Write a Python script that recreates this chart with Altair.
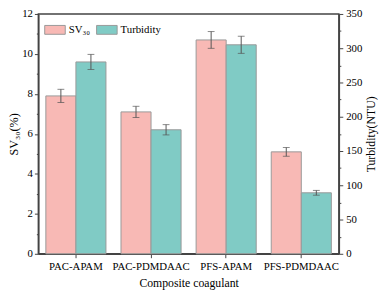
import altair as alt
import pandas as pd

categories = ["PAC-APAM", "PAC-PDMDAAC", "PFS-APAM", "PFS-PDMDAAC"]
series = ["SV₃₀", "Turbidity"]
sv30 = [7.9, 7.1, 10.7, 5.1]
sv30_err = [0.33, 0.28, 0.42, 0.22]
turbidity = [280, 181, 305, 89]
turbidity_err = [11, 7.5, 12.5, 3.5]
left_ticks = list(range(0, 13))
right_ticks = list(range(0, 351, 25))

colors = ["#F8B9B5", "#80CBC5"]
FONT = "Liberation Serif"

rows = []
for c, v, e in zip(categories, sv30, sv30_err):
    rows.append({"cat": c, "series": series[0], "value": v, "lo": v - e, "hi": v + e})
for c, v, e in zip(categories, turbidity, turbidity_err):
    rows.append({"cat": c, "series": series[1], "value": v, "lo": v - e, "hi": v + e})
df = pd.DataFrame(rows)

x_enc = alt.X(
    "cat:N",
    sort=categories,
    scale=alt.Scale(paddingInner=0.2, paddingOuter=0.1),
    axis=alt.Axis(
        title="Composite coagulant",
        labelAngle=0,
        labelFont=FONT,
        titleFont=FONT,
        labelFontSize=11,
        titleFontSize=12,
        titleFontWeight="normal",
        tickSize=4,
        labelPadding=3,
        titlePadding=6,
        domainColor="#444",
        tickColor="#444",
        domainWidth=1.5,
        labelColor="black",
        titleColor="black",
    ),
)
xo_enc = alt.XOffset("series:N", scale=alt.Scale(domain=series, paddingInner=0, paddingOuter=0))
color_enc = alt.Color(
    "series:N",
    scale=alt.Scale(domain=series, range=colors),
    legend=alt.Legend(
        title=None,
        orient="none",
        legendX=6,
        legendY=5,
        direction="horizontal",
        symbolType="M-1,-0.43H1V0.43H-1Z",
        symbolSize=441,
        symbolStrokeColor="#999",
        symbolStrokeWidth=1,
        symbolOpacity=1,
        labelFont=FONT,
        labelFontSize=11,
        labelOffset=3,
        columnPadding=4,
        labelColor="black",
    ),
)

left_axis = alt.Axis(
    title="SV₃₀(%)",
    orient="left",
    values=left_ticks,
    labelExpr="datum.value % 2 == 0 ? datum.label : ''",
    tickSize={"condition": {"test": "datum.value % 2 == 0", "value": 4}, "value": 2},
    labelFont=FONT,
    titleFont=FONT,
    labelFontSize=11,
    titleFontSize=12.5,
    titleFontWeight="normal",
    labelPadding=2,
    titlePadding=1,
    grid=False,
    domainColor="#444",
    tickColor="#444",
    domainWidth=1.5,
    labelColor="black",
    titleColor="black",
)
right_axis = alt.Axis(
    title="Turbidity(NTU)",
    orient="right",
    values=right_ticks,
    labelExpr="datum.value % 50 == 0 ? datum.label : ''",
    tickSize={"condition": {"test": "datum.value % 50 == 0", "value": 4}, "value": 2},
    labelFont=FONT,
    titleFont=FONT,
    labelFontSize=11,
    titleFontSize=12,
    titleFontWeight="normal",
    titleAngle=270,
    titleBaseline="top",
    labelPadding=3,
    titlePadding=4,
    grid=False,
    domainColor="#444",
    tickColor="#444",
    domainWidth=1.5,
    labelColor="black",
    titleColor="black",
)


def group(name, domain, axis):
    base = alt.Chart(df).transform_filter(alt.datum.series == name)
    ys = alt.Scale(domain=domain, nice=False, zero=True)
    bars = base.mark_bar(stroke="#999", strokeWidth=1, opacity=1).encode(
        x=x_enc, xOffset=xo_enc, y=alt.Y("value:Q", scale=ys, axis=axis), color=color_enc
    )
    rule = base.mark_rule(color="#555", strokeWidth=1).encode(
        x=x_enc, xOffset=xo_enc, y=alt.Y("lo:Q", scale=ys, axis=axis), y2="hi:Q"
    )
    cap_lo = base.mark_tick(color="#555", size=7, thickness=1).encode(
        x=x_enc, xOffset=xo_enc, y=alt.Y("lo:Q", scale=ys, axis=axis)
    )
    cap_hi = base.mark_tick(color="#555", size=7, thickness=1).encode(
        x=x_enc, xOffset=xo_enc, y=alt.Y("hi:Q", scale=ys, axis=axis)
    )
    return alt.layer(bars, rule, cap_lo, cap_hi)


left = group(series[0], [0, 12], left_axis)
right = group(series[1], [0, 350], right_axis)

chart = (
    alt.layer(left, right)
    .resolve_scale(y="independent")
    .properties(
        width=307,
        height=245,
        autosize=alt.AutoSizeParams(type="none"),
        padding={"left": 31, "top": 3, "right": 41, "bottom": 39},
    )
    .configure(font=FONT)
    .configure_axis(labelFont=FONT, titleFont=FONT)
    .configure_legend(labelFont=FONT)
    .configure_view(stroke="#444", strokeWidth=1.5)
)

chart.save("out.html", embed_options={"renderer": "svg", "actions": False})
